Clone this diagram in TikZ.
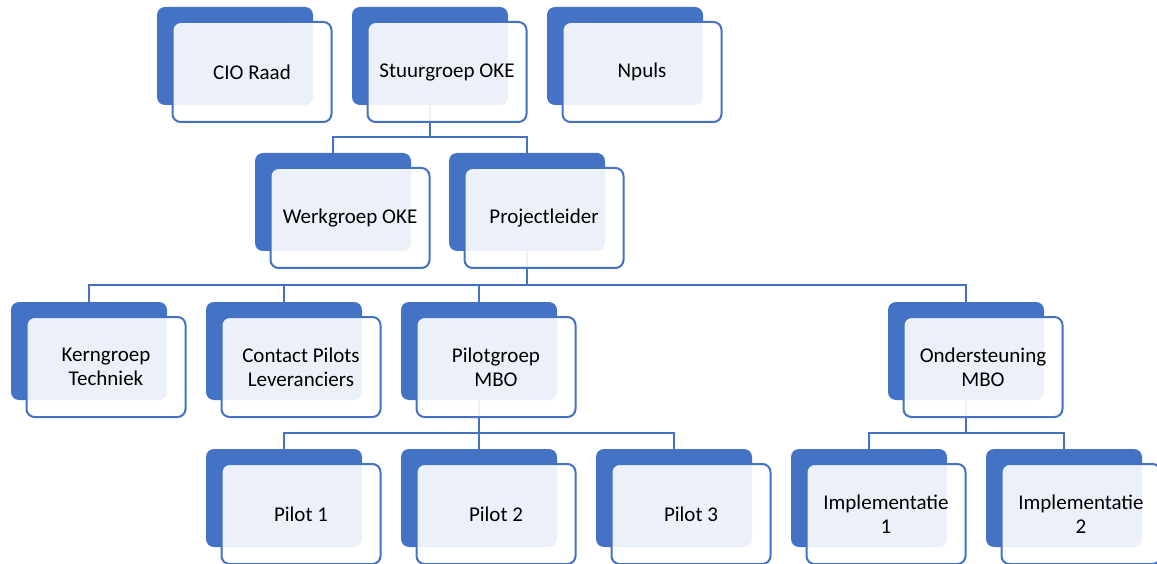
\documentclass[tikz,border=0pt]{standalone}
\usepackage{fontspec}
\setmainfont{Carlito}
\usetikzlibrary{backgrounds}
\definecolor{orgblue}{HTML}{4472C4}

\begin{document}
\begin{tikzpicture}[x=1pt,y=-1pt,
  backbox/.style={fill=orgblue,rounded corners=8pt,minimum width=156pt,minimum height=98pt,inner sep=0pt},
  frontbox/.style={draw=orgblue,line width=2pt,fill=white,fill opacity=0.9,text opacity=1,
                   rounded corners=8pt,minimum width=159pt,minimum height=100pt,inner sep=0pt,
                   align=center,font=\fontsize{21}{24}\selectfont},
  link/.style={draw=orgblue,line width=2pt}]
\def\orgunit#1#2#3#4{%
  \node[backbox]  (#1-b) at (#2+78,#3+49) {};
  \node[frontbox] (#1)   at (#2+95,#3+65) {#4};}

\useasboundingbox (0,0) rectangle (1157,564);

% top row
\orgunit{cio}{157}{7}{CIO Raad}
\orgunit{stuur}{352}{7}{Stuurgroep OKE}
\orgunit{npuls}{547}{7}{Npuls}

% second row
\orgunit{werk}{255}{153}{Werkgroep OKE}
\orgunit{proj}{449}{153}{Projectleider}

% third row
\orgunit{kern}{11}{302}{Kerngroep\\Techniek}
\orgunit{contact}{206}{302}{Contact Pilots\\Leveranciers}
\orgunit{pilotgr}{401}{302}{Pilotgroep\\MBO}
\orgunit{onder}{888}{302}{Ondersteuning\\MBO}

% bottom row
\orgunit{pilot1}{206}{449}{Pilot 1}
\orgunit{pilot2}{401}{449}{Pilot 2}
\orgunit{pilot3}{596}{449}{Pilot 3}
\orgunit{impl1}{791}{449}{Implementatie\\1}
\orgunit{impl2}{986}{449}{Implementatie\\2}

\begin{pgfonlayer}{background}
\draw[link] (stuur-b.south) -- ++(0,32) -| (werk-b.north);
\draw[link] (stuur-b.south) -- ++(0,32) -| (proj-b.north);

\draw[link] (proj-b.south) -- ++(0,34) -| (kern-b.north);
\draw[link] (proj-b.south) -- ++(0,34) -| (contact-b.north);
\draw[link] (proj-b.south) -- ++(0,34) -| (pilotgr-b.north);
\draw[link] (proj-b.south) -- ++(0,34) -| (onder-b.north);

\draw[link] (pilotgr-b.south) -- ++(0,33) -| (pilot1-b.north);
\draw[link] (pilotgr-b.south) -- ++(0,33) -| (pilot2-b.north);
\draw[link] (pilotgr-b.south) -- ++(0,33) -| (pilot3-b.north);

\draw[link] (onder-b.south) -- ++(0,33) -| (impl1-b.north);
\draw[link] (onder-b.south) -- ++(0,33) -| (impl2-b.north);
\end{pgfonlayer}
\end{tikzpicture}
\end{document}
